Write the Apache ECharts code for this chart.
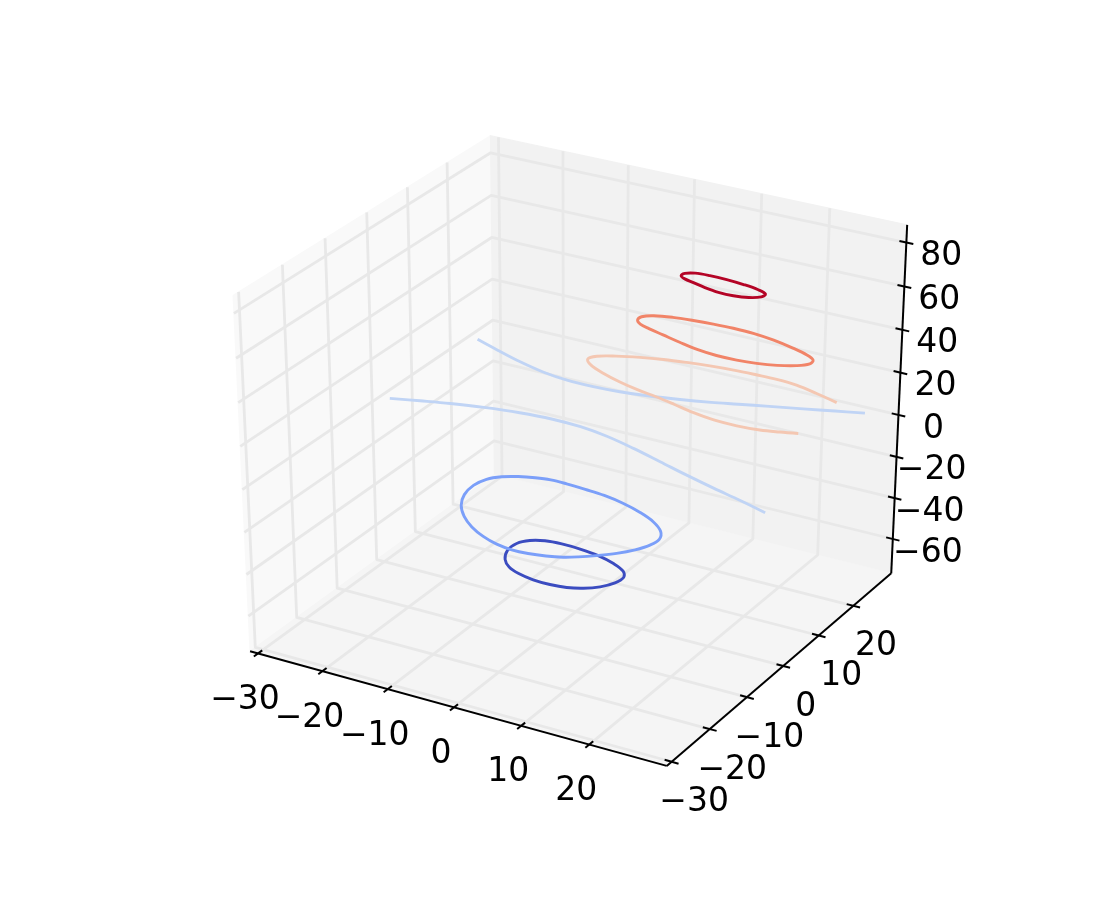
<!DOCTYPE html>
<html>
<head>
<meta charset="utf-8">
<style>
  html, body { margin: 0; padding: 0; background: #fff; }
  #chart { width: 1100px; height: 900px; }
</style>
<script src="https://cdn.jsdelivr.net/npm/echarts@6/dist/echarts.min.js"></script>
</head>
<body>
<div id="chart"></div>
<script>
// tick values and labels
const xTicks = [-30, -20, -10, 0, 10, 20]
const yTicks = [-30, -20, -10, 0, 10, 20]
const zTicks = [-60, -40, -20, 0, 20, 40, 60, 80]

// contour lines, one x list and one y list per line
const darkLevel = -40
const darkX = [-4.48, -5.56, -5.57, -4.51, -2.75, -0.38, 2.47, 5.49, 8.36, 10.53, 11.49, 11.31, 10.21, 8.55, 6.57, 4.26, 1.70, -0.85, -2.90]
const darkY = [-10.69, -8.25, -5.89, -4.27, -3.35, -3.04, -3.16, -3.67, -4.69, -5.98, -7.50, -9.48, -11.41, -12.86, -13.75, -14.08, -13.98, -13.35, -12.32]

const blueLevel = -20
const blueX = [-11.22, -12.53, -12.95, -12.42, -11.08, -9.23, -7.11, -5.01, -2.60, 0.38, 3.45, 6.72, 10.01, 12.88, 15.05, 16.01, 15.81, 14.83, 13.29, 11.35, 9.54, 7.93, 5.85, 3.51, 1.16, -1.34, -4.00, -6.70, -9.18]
const blueY = [-10.43, -7.47, -4.46, -2.01, -0.34, 0.80, 1.61, 2.07, 2.06, 1.82, 1.46, 0.63, -0.65, -2.24, -4.22, -6.31, -8.40, -10.55, -12.61, -14.46, -15.92, -16.96, -17.77, -18.29, -18.41, -17.97, -16.90, -15.24, -13.06]

const zeroLevel = 0
const upperX = [-29.70, -25.45, -20.93, -16.46, -12.32, -8.24, -4.35, -0.49, 3.83, 7.85, 11.25, 15.13, 19.42, 23.38, 27.10]
const upperY = [24.60, 22.83, 21.06, 19.67, 18.97, 18.92, 19.26, 19.96, 21.08, 22.36, 23.64, 25.07, 26.63, 28.13, 29.50]
const lowerX = [-29.80, -25.90, -21.96, -17.47, -12.50, -7.70, -3.34, 1.13, 5.99, 10.98, 15.92, 20.77, 25.38, 29.90]
const lowerY = [2.10, 3.45, 4.73, 5.89, 6.79, 7.19, 7.01, 6.15, 4.63, 2.81, 0.97, -0.71, -2.20, -3.80]

const peachLevel = 20
const peachX = [28.30, 24.73, 21.23, 18.13, 15.12, 11.84, 8.50, 5.30, 2.20, -0.83, -3.74, -5.95, -6.54, -5.19, -2.52, 0.66, 3.93, 7.13, 10.29, 13.63, 17.06, 20.49, 23.65, 26.13, 28.40]
const peachY = [18.60, 19.82, 20.86, 21.19, 21.14, 20.98, 20.59, 20.04, 19.36, 18.41, 17.18, 15.84, 14.47, 12.99, 11.54, 10.24, 9.22, 8.49, 7.61, 6.60, 5.92, 5.81, 6.17, 6.88, 7.70]

const orangeLevel = 40
const orangeX = [-0.30, -0.37, 0.88, 3.28, 6.11, 8.94, 11.85, 14.90, 18.23, 21.57, 24.15, 25.60, 25.78, 24.55, 22.35, 19.78, 17.07, 14.12, 11.02, 7.97, 4.95, 2.36, 0.66]
const orangeY = [16.70, 17.90, 18.99, 19.77, 20.22, 20.50, 20.61, 20.45, 19.84, 18.84, 17.82, 16.77, 15.50, 14.15, 13.00, 12.24, 11.86, 11.83, 12.28, 13.15, 14.14, 14.99, 15.72]

const redLevel = 60
const redX = [4.43, 4.45, 5.58, 7.63, 10.16, 12.83, 15.30, 16.78, 16.75, 15.43, 13.43, 11.22, 8.96, 6.89, 5.32]
const redY = [19.78, 20.74, 21.49, 21.73, 21.66, 21.33, 20.76, 19.98, 18.90, 17.90, 17.43, 17.46, 17.95, 18.63, 19.14]

// axis limits of the 3d box
const xLim = [-31.25, 31.2]
const yLim = [-31.25, 31.2]
const zLim = [-77, 88]

// matplotlib style view: elev 30, azim -60, dist 10
const rad = Math.PI / 180
const elev = 30 * rad
const azim = -60 * rad
const dist = 10
const nVec = [Math.cos(elev) * Math.cos(azim), Math.cos(elev) * Math.sin(azim), Math.sin(elev)]
const uLen = Math.hypot(nVec[0], nVec[1])
const uVec = [-nVec[1] / uLen, nVec[0] / uLen, 0]
const vVec = [
  nVec[1] * uVec[2] - nVec[2] * uVec[1],
  nVec[2] * uVec[0] - nVec[0] * uVec[2],
  nVec[0] * uVec[1] - nVec[1] * uVec[0]
]
const dot = (a, b) => a[0] * b[0] + a[1] * b[1] + a[2] * b[2]

const project = (x, y, z) => {
  const p = [
    (x - xLim[0]) / (xLim[1] - xLim[0]) - 0.5,
    (y - yLim[0]) / (yLim[1] - yLim[0]) - 0.5,
    (z - zLim[0]) / (zLim[1] - zLim[0]) - 0.5
  ]
  const w = dist - dot(nVec, p)
  return [575.6 + 4810 * dot(uVec, p) / w, 440 - 4064 * dot(vVec, p) / w]
}

const polyLine = (points, color, width, z) => ({
  type: 'line',
  data: points.map(p => project(p[0], p[1], p[2])),
  showSymbol: false,
  symbol: 'none',
  silent: true,
  clip: false,
  z,
  lineStyle: { color, width, cap: 'butt', join: 'round' }
})

// custom series here: the line series clamps its smoothing at every extreme,
// which left corners on the loops
const contour = (xs, ys, level, color, closed) => ({
  type: 'custom',
  silent: true,
  clip: false,
  z: 5,
  data: [0],
  renderItem: (params, api) => ({
    type: closed ? 'polygon' : 'polyline',
    shape: {
      points: xs.map((x, i) => api.coord(project(x, ys[i], level))),
      smooth: 0.36
    },
    style: { fill: 'none', stroke: color, lineWidth: 2.9 }
  })
})

const pane = (corners, color) => ({
  type: 'custom',
  silent: true,
  z: 1,
  data: [0],
  renderItem: (params, api) => ({
    type: 'polygon',
    shape: { points: corners.map(c => api.coord(project(c[0], c[1], c[2]))) },
    style: { fill: color, stroke: color, lineWidth: 1 }
  })
})

const tickLabels = (ticks, toPoint, offset) => ({
  type: 'scatter',
  silent: true,
  z: 8,
  symbolSize: 1,
  itemStyle: { color: 'transparent', opacity: 1 },
  clip: false,
  data: ticks.map(t => ({ value: toPoint(t), tick: t })),
  label: {
    show: true,
    position: 'inside',
    offset,
    fontFamily: 'DejaVu Sans',
    fontSize: 33,
    color: '#000',
    opacity: 1,
    textBorderWidth: 0,
    formatter: p => String(p.data.tick).replace('-', '\u2212')
  }
})

const [x0, x1] = xLim
const [y0, y1] = yLim
const [z0, z1] = zLim
const gridColor = '#e8e8e8'
const gridWidth = 2.8
const tickLen = 1

const series = [
  // panes
  pane([[x0, y0, z0], [x0, y1, z0], [x0, y1, z1], [x0, y0, z1]], '#f9f9f9'),
  pane([[x0, y1, z0], [x1, y1, z0], [x1, y1, z1], [x0, y1, z1]], '#f2f2f2'),
  pane([[x0, y0, z0], [x1, y0, z0], [x1, y1, z0], [x0, y1, z0]], '#f5f5f5'),
  // grid lines
  ...xTicks.map(t => polyLine([[t, y0, z0], [t, y1, z0], [t, y1, z1]], gridColor, gridWidth, 2)),
  ...yTicks.map(t => polyLine([[x1, t, z0], [x0, t, z0], [x0, t, z1]], gridColor, gridWidth, 2)),
  ...zTicks.map(t => polyLine([[x0, y0, t], [x0, y1, t], [x1, y1, t]], gridColor, gridWidth, 2)),
  // contours
  contour(lowerX, lowerY, zeroLevel, '#c0d4f5', false),
  contour(upperX, upperY, zeroLevel, '#c0d4f5', false),
  contour(darkX, darkY, darkLevel, '#3b4cc0', true),
  contour(blueX, blueY, blueLevel, '#7b9ff9', true),
  contour(peachX, peachY, peachLevel, '#f4c7b2', false),
  contour(orangeX, orangeY, orangeLevel, '#f18468', true),
  contour(redX, redY, redLevel, '#b40426', true),
  // axis lines
  polyLine([[x0, y0, z0], [x1, y0, z0]], '#000', 2, 6),
  polyLine([[x1, y0, z0], [x1, y1, z0]], '#000', 2, 6),
  polyLine([[x1, y1, z0], [x1, y1, z1]], '#000', 2, 6),
  // tick marks
  ...xTicks.map(t => polyLine([[t, y0 - tickLen, z0], [t, y0 + tickLen, z0]], '#000', 2, 7)),
  ...yTicks.map(t => polyLine([[x1 - tickLen, t, z0], [x1 + tickLen, t, z0]], '#000', 2, 7)),
  ...zTicks.map(t => polyLine([[x1 - tickLen, y1, t], [x1 + tickLen, y1, t]], '#000', 2, 7)),
  // tick labels
  tickLabels(xTicks, t => project(t, y0, z0), [-13, 47]),
  tickLabels(yTicks, t => project(x1, t, z0), [22.5, 41]),
  tickLabels(zTicks, t => project(x1, y1, t), [35, 14])
]

const chart = echarts.init(document.getElementById('chart'), null, { renderer: 'canvas' })
chart.setOption({
  animation: false,
  backgroundColor: '#fff',
  grid: { left: 0, right: 0, top: 0, bottom: 0 },
  xAxis: { type: 'value', min: 0, max: 1100, show: false },
  yAxis: { type: 'value', min: 0, max: 900, inverse: true, show: false },
  series
})
</script>
</body>
</html>
